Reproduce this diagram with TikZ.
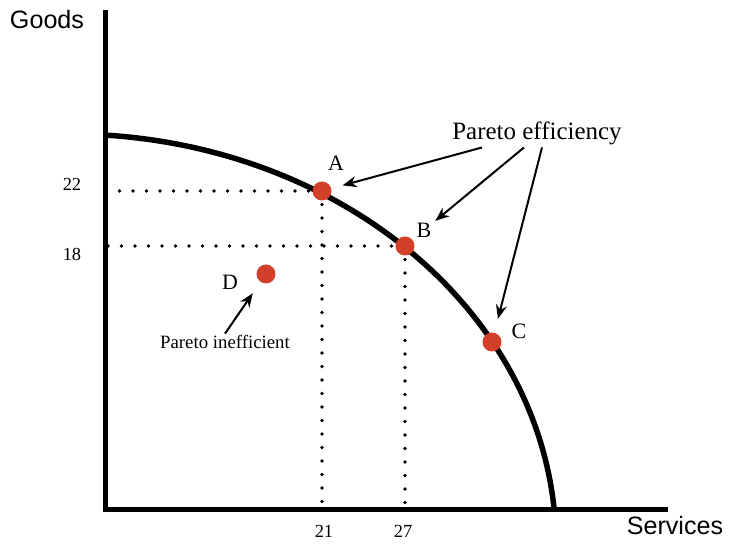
\documentclass[tikz,border=0pt]{standalone}
\usepackage{fontspec}
\setmainfont{Liberation Serif}
\setsansfont{Liberation Sans}
\usetikzlibrary{arrows.meta}
\definecolor{dotred}{RGB}{210,64,42}
\tikzset{
  axis/.style={line width=0.1cm},
  ppf/.style={line width=0.11cm},
  guide/.style={line width=0.075cm, line cap=round, dash pattern=on 0pt off 0.27cm},
  pt/.style={circle, fill=dotred, inner sep=0pt, minimum size=0.38cm},
  ptlbl/.style={font=\fontsize{12.5}{14}\selectfont},
  ticklbl/.style={font=\fontsize{10.5}{12}\selectfont},
  axlbl/.style={font=\sffamily\fontsize{14.3}{16}\selectfont},
  note/.style={inner sep=1pt},
  arr/.style={-{Stealth[length=0.28cm,width=0.22cm]}, line width=0.04cm}
}

\begin{document}
\begin{tikzpicture}[x=0.02cm,y=-0.02cm]
  \useasboundingbox (0,0) rectangle (735,546);
  \coordinate (o) at (105.5,510);
  \coordinate (a) at (322,191);
  \coordinate (b) at (405,246);
  % axes
  \draw[axis] (105.5,10) -- (o) -- (668,510);
  \node[axlbl] (goods) at (47,20) {Goods};
  \node[axlbl] (services) at (675,526) {Services};
  % frontier
  \draw[ppf] plot[domain=85.8:4.9, samples=80, smooth]
    ({70+486*cos(\x)}, {545-411*sin(\x)});
  % dotted guides
  \draw[guide] (a) -- (a -| o);
  \draw[guide] (a) -- (a |- o);
  \draw[guide] (b) -- (b -| o);
  \draw[guide] (b) -- (b |- o);
  \node[ticklbl] (y22) at (72,184) {22};
  \node[ticklbl] (y18) at (72,254) {18};
  \node[ticklbl] (x21) at (324,531) {21};
  \node[ticklbl] (x27) at (403,531) {27};
  % points
  \node[pt] (ptA) at (a) {};
  \node[pt] (ptB) at (b) {};
  \node[pt] (ptC) at (492,342) {};
  \node[pt] (ptD) at (266,274) {};
  \node[ptlbl] (lA) at (336,163) {A};
  \node[ptlbl] (lB) at (424,230) {B};
  \node[ptlbl] (lC) at (519,331) {C};
  \node[ptlbl] (lD) at (230,282) {D};
  % notes
  \node[note, anchor=base, font=\fontsize{14.2}{16}\selectfont] (eff) at (537,140) {Pareto efficiency};
  \node[note, anchor=base, font=\fontsize{10.7}{12}\selectfont] (ineff) at (225,349) {Pareto inefficient};
  \draw[arr, shorten >=0.23cm] ([xshift=-1.1cm]eff.south) -- (ptA);
  \draw[arr, shorten >=0.59cm] ([xshift=-0.26cm]eff.south) -- (ptB);
  \draw[arr, shorten >=0.28cm] ([xshift=0.1cm]eff.south) -- (ptC);
  \draw[arr, shorten >=0.27cm] (ineff.north) -- (ptD);
\end{tikzpicture}
\end{document}
